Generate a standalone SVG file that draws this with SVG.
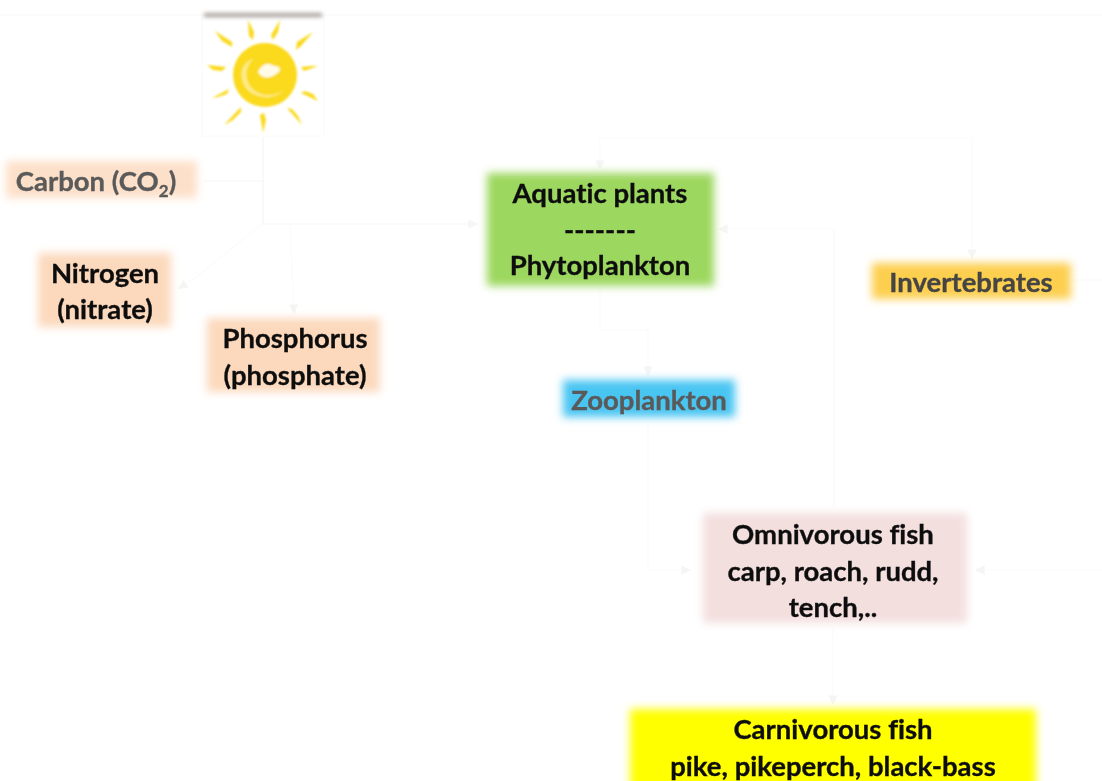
<svg xmlns="http://www.w3.org/2000/svg" width="1102" height="781" viewBox="0 0 1102 781">
<style>
text{font-family:"Lato","Liberation Sans",sans-serif;font-weight:700;font-size:27.5px;text-anchor:middle;fill:#111;stroke:#111;stroke-width:.35;font-variant-ligatures:none;filter:url(#t)}
.g{fill:#5a5a5a;stroke:#5a5a5a}
.b{filter:url(#b)}
.c path{fill:none;stroke:#f5f5f5;stroke-width:1.2}
.c .f{stroke:#fbfbfb}
.c .a{marker-end:url(#m)}
</style>
<defs>
<filter id="b" x="-20%" y="-30%" width="140%" height="160%"><feGaussianBlur stdDeviation="4.5"/></filter>
<filter id="t" x="-5%" y="-10%" width="110%" height="120%"><feGaussianBlur stdDeviation="0.7"/></filter>
<filter id="s" x="-10%" y="-10%" width="120%" height="120%"><feGaussianBlur stdDeviation="0.9"/></filter>
<filter id="u" x="-10%" y="-300%" width="120%" height="700%"><feGaussianBlur stdDeviation="2"/></filter>
<marker id="m" markerWidth="10" markerHeight="8" refX="8" refY="4" orient="auto"><path d="M0 0L8 4L0 8z" fill="#f5f5f5"/></marker>
</defs>
<rect width="1102" height="781" fill="#fff"/>
<path d="M0 15H1102" stroke="#f7f7f7" stroke-width="1"/>
<g class="c" id="connectors">
<path class="a" d="M263 137V224H478"/>
<path d="M203 181H263"/>
<path class="a f" d="M290 224L294 314"/>
<path class="a f" d="M262 224L195 278L178 289"/>
<path class="a f" d="M600 138V170"/>
<path class="a f" d="M972 138V259"/>
<path class="f" d="M600 138H972"/>
<path class="a f" d="M834 509V229H718"/>
<path class="a f" d="M600 290V330H648V376"/>
<path class="a f" d="M648 420V570H691"/>
<path class="a f" d="M1102 570H975"/>
<path class="f" d="M1075 280H1102"/>
<path class="a f" d="M833 628V705"/>
</g>
<g id="sun">
<rect x="202" y="17" width="122" height="119" fill="#fff" stroke="#fafafa"/>
<rect x="204" y="13" width="118" height="4" fill="#a89f98" filter="url(#u)"/>
<g filter="url(#s)" fill="#fbd91f">
<circle cx="265" cy="75" r="32"/>
<path d="M248 20L254 32L253 40L249 36Z"/>
<path d="M280 20L278 32L273 40L271 35Z"/>
<path d="M215 31L232 42L232 47L222 41Z"/>
<path d="M313 32L301 46L296 50L297 42Z"/>
<path d="M207 65L226 67L222 71L213 70Z"/>
<path d="M318 66L304 71L301 67L310 66Z"/>
<path d="M212 98L229 89L227 94L218 97Z"/>
<path d="M318 101L301 93L305 91L313 94Z"/>
<path d="M224 125L241 107L241 112L233 120Z"/>
<path d="M302 125L287 108L292 109L298 116Z"/>
<path d="M263 133L260 115L264 113L266 120Z"/>
<path d="M258 72C262 64 268 62 274 66C282 66 281 72 276 74C270 79 262 79 258 72Z" fill="#fffbe8"/>
<path d="M246 88C238 76 240 64 254 58C246 66 244 76 250 86C258 96 272 98 284 90C274 100 256 100 246 88Z" fill="#fdeb85"/>
</g>
</g>
<g id="carbon">
<rect x="6" y="161" width="191" height="37" fill="#fde0c9" class="b"/>
<text class="g" x="96" y="191">Carbon (CO<tspan dy="6" style="font-size:17px">2</tspan><tspan dy="-6">)</tspan></text>
</g>
<g id="nitrogen">
<rect x="38" y="253" width="133" height="74" fill="#fcd9bd" class="b"/>
<text x="105" y="283">Nitrogen</text>
<text x="105" y="319">(nitrate)</text>
</g>
<g id="phosphorus">
<rect x="207" y="318" width="173" height="74" fill="#fcd9bd" class="b"/>
<text x="295" y="348">Phosphorus</text>
<text x="295" y="385">(phosphate)</text>
</g>
<g id="aquatic">
<rect x="487" y="173" width="227" height="113" fill="#9cd75f" class="b"/>
<text x="600" y="203">Aquatic plants</text>
<text x="600" y="240">-------</text>
<text x="600" y="275">Phytoplankton</text>
</g>
<g id="invertebrates">
<rect x="872" y="263" width="199" height="36" fill="#fdcf4f" class="b"/>
<text class="g" style="fill:#444;stroke:#444" x="971" y="292">Invertebrates</text>
</g>
<g id="zooplankton">
<rect x="563" y="380" width="172" height="37" fill="#4ac5f2" class="b"/>
<text class="g" x="649" y="410">Zooplankton</text>
</g>
<g id="omnivorous">
<rect x="703" y="513" width="264" height="110" fill="#f4dfdf" class="b"/>
<text x="833" y="544">Omnivorous fish</text>
<text x="833" y="581">carp, roach, rudd,</text>
<text x="833" y="617">tench,..</text>
</g>
<g id="carnivorous">
<rect x="630" y="709" width="406" height="92" fill="#ffff00" class="b"/>
<text x="833" y="739">Carnivorous fish</text>
<text x="833" y="776">pike, pikeperch, black-bass</text>
</g>
</svg>
